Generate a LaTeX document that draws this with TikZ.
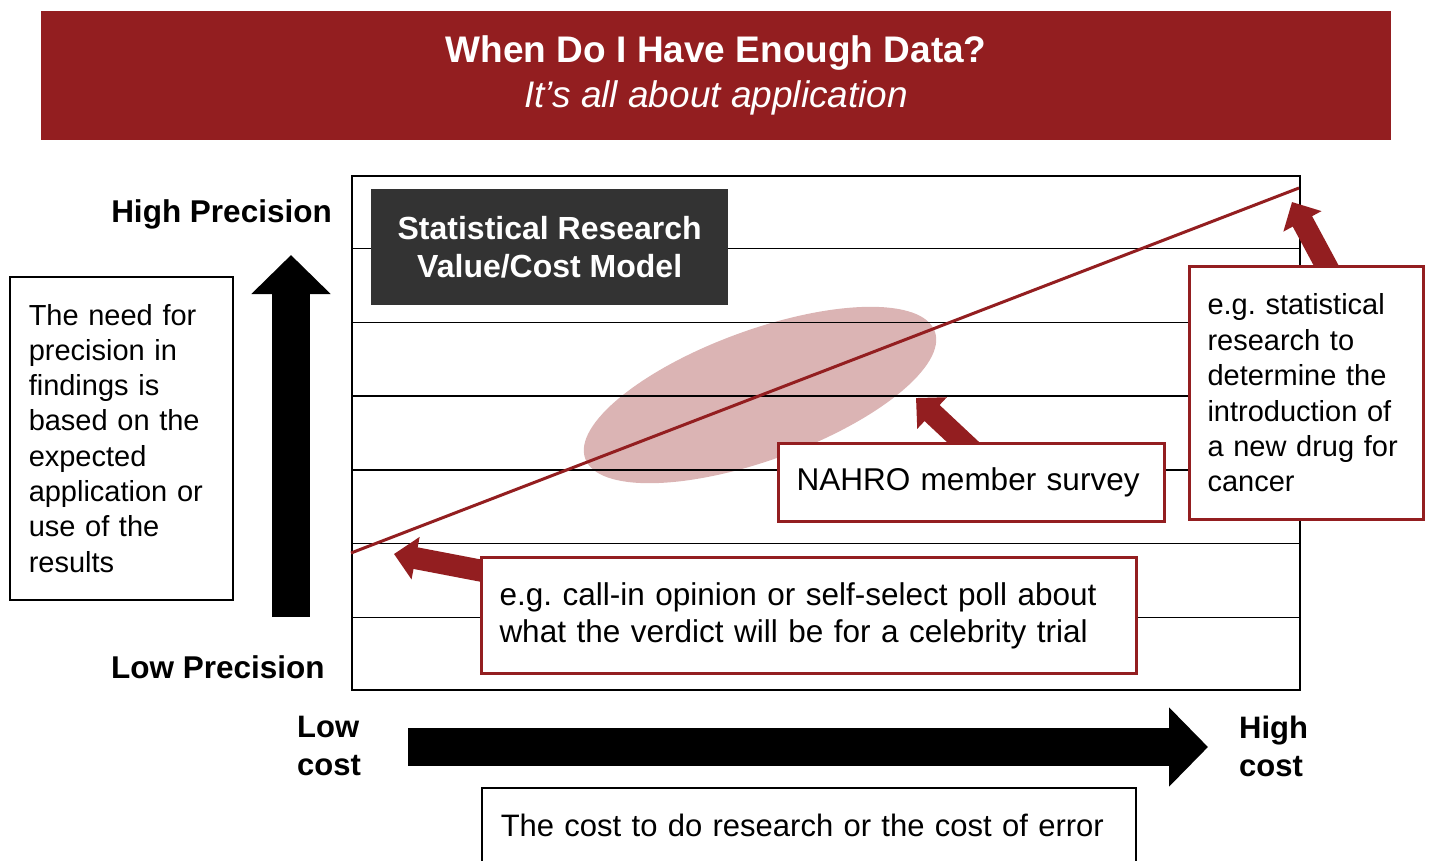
\documentclass[tikz,border=0pt]{standalone}
\usepackage{fontspec}
\setmainfont{Liberation Sans}
\usetikzlibrary{arrows.meta,calc}
\definecolor{brick}{RGB}{147,30,32}
\definecolor{slate}{RGB}{51,51,51}
\definecolor{blush}{RGB}{219,180,180}
\pgfdeclarelayer{grid}
\pgfdeclarelayer{pointers}
\pgfsetlayers{grid,pointers,main}
\newcommand\sz[2]{\fontsize{#1}{#2}\selectfont}
\frenchspacing

\begin{document}
\begin{tikzpicture}[x=1pt,y=-1pt,
  plainbox/.style={draw=black, line width=1.5pt, fill=white, align=left,
    inner xsep=19pt, inner ysep=0pt, anchor=north west},
  callout/.style={draw=brick, line width=3pt, fill=white, align=left,
    inner xsep=18pt, inner ysep=0pt, anchor=north west},
  pointer/.style={draw=brick, line width=22pt, -{Triangle[width=42pt,length=22pt]}},
  bigarrow/.style={draw=black, line width=38pt, -{Triangle[width=77pt,length=39pt]}},
  gridline/.style={line width=1.5pt},
  axislabel/.style={font=\sz{31.5}{38}\bfseries, inner sep=0pt},
]
\useasboundingbox (0,0) rectangle (1429,860);

% banner
\node[fill=brick, minimum width=1350pt, minimum height=129pt, anchor=north west,
  inner sep=0pt, text=white, align=center, font=\sz{37}{45}] (banner) at (41,11)
  {\textbf{When Do I Have Enough Data?}\\\textit{It’s all about application}};

% chart area: highlight, frame, bands, trend
\begin{pgfonlayer}{grid}
  \fill[blush, rotate around={20:(760,395)}] (760,395) ellipse [x radius=186pt, y radius=65pt];
  \node[draw=black, line width=2pt, minimum width=948pt, minimum height=514pt,
    anchor=north west, inner sep=0pt] (chart) at (351,175) {};
  \foreach \k in {1,...,6}
    \draw[gridline] ($(chart.north west)!\k/7!(chart.south west)$) -- ($(chart.north east)!\k/7!(chart.south east)$);
  \coordinate (lowend) at (351,553);
  \coordinate (highend) at (1299,188);
  \draw[brick, line width=3pt] (lowend) -- (highend);
\end{pgfonlayer}

\node[fill=slate, text=white, font=\sz{32}{38}\bfseries, align=center,
  minimum width=357pt, minimum height=116pt, anchor=north west, inner sep=0pt]
  (model) at (371,189) {Statistical Research\\Value/Cost Model};

% vertical axis
\node[plainbox, text width=185pt, minimum height=323pt, font=\sz{29}{35.3}] (need) at (9,276)
  {The need for\\precision in\\findings is\\based on the\\expected\\application or\\use of the\\results};
\node[axislabel, anchor=east] (hiprec) at (332,214) {High Precision};
\node[axislabel, anchor=west] (loprec) at (111,667) {Low Precision};
\coordinate (upfoot) at (291,617);
\coordinate (uptip) at (291,255);
\draw[bigarrow] (upfoot) -- (uptip);

% horizontal axis
\coordinate (rtfoot) at (408,747);
\coordinate (rttip) at (1208,747);
\draw[bigarrow] (rtfoot) -- (rttip);
\node[axislabel, align=left, anchor=west, font=\sz{31}{38}\bfseries] (lowcost) at (297,746) {Low\\cost};
\node[axislabel, align=left, anchor=west, font=\sz{31}{38}\bfseries] (highcost) at (1239,746) {High\\cost};
\node[plainbox, text width=616pt, minimum height=76pt, font=\sz{31}{38}] (costnote) at (481,787)
  {The cost to do research or the cost of error};

% callouts
\node[callout, text width=350pt, minimum height=78pt, font=\sz{31.5}{38}] (nahro) at (777,442)
  {NAHRO member survey};
\node[callout, text width=198pt, minimum height=253pt, font=\sz{29}{35.4}] (drug) at (1188,265)
  {e.g. statistical\\research to\\determine the\\introduction of\\a new drug for\\cancer};
\node[callout, text width=619pt, minimum height=116pt, font=\sz{31.5}{37}] (poll) at (480,556)
  {e.g. call-in opinion or self-select poll about\\what the verdict will be for a celebrity trial};

\begin{pgfonlayer}{pointers}
  \coordinate (drugtip) at (1292,202);
  \coordinate (nahrotip) at (916,398);
  \coordinate (polltip) at (394,554);
  \draw[pointer] ($(drug.north west)!0.6!(drug.north east)+(0,8)$) -- (drugtip);
  \draw[pointer] ($(nahro.north)+(0,8)$) -- (nahrotip);
  \draw[pointer] ($(poll.north west)+(8,16)$) -- (polltip);
\end{pgfonlayer}
\end{tikzpicture}
\end{document}
